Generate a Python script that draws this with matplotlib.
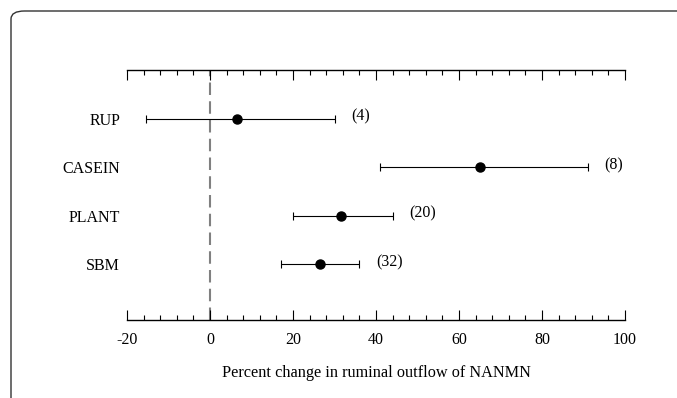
import matplotlib.pyplot as plt
from matplotlib.patches import FancyBboxPatch
from matplotlib.ticker import MultipleLocator

plt.rcParams['font.family'] = ['Liberation Serif', 'DejaVu Serif']
plt.rcParams['axes.unicode_minus'] = False  # hyphen for -20 like the original

groups = ['RUP', 'CASEIN', 'PLANT', 'SBM']
means = [6.5, 65.0, 31.5, 26.5]
lower = [-15.5, 41.0, 20.0, 17.0]
upper = [30.0, 91.0, 44.0, 36.0]
n_obs = ['(4)', '(8)', '(20)', '(32)']

fig = plt.figure(figsize=(6.77, 3.98), dpi=100)

# outer rounded frame (the picture is a crop of a boxed figure)
frame = FancyBboxPatch((11 / 677, -0.2), 1.2, 0.2 + (398 - 11) / 398,
                       boxstyle='round,pad=0,rounding_size=0.02',
                       transform=fig.transFigure, fill=False,
                       edgecolor='#333333', linewidth=1.0, clip_on=False)
fig.patches.append(frame)

ax = fig.add_axes([127 / 677, 1 - 320 / 398, (625 - 127) / 677, (320 - 70) / 398])

ypos = [4, 3, 2, 1]
err_lo = [m - l for m, l in zip(means, lower)]
err_hi = [u - m for m, u in zip(means, upper)]

ax.axvline(0, color='#808080', linestyle=(0, (6, 3)), linewidth=1.5, zorder=1)
ax.errorbar(means, ypos, xerr=[err_lo, err_hi], fmt='o', color='black',
            markersize=6.5, elinewidth=0.8, capsize=3, capthick=0.8, zorder=3)

for u, y, t in zip(upper, ypos, n_obs):
    ax.annotate(t, (u, y), xytext=(12, 1.5), textcoords='offset points',
                ha='left', va='center', fontsize=11.5)

ax.set_xlim(-20, 100)
ax.set_ylim(-0.15, 5.0)
ax.set_yticks(ypos)
ax.set_yticklabels(groups, fontsize=11.5)
ax.tick_params(axis='y', length=0, pad=5)

ax.xaxis.set_major_locator(MultipleLocator(20))
ax.xaxis.set_minor_locator(MultipleLocator(4))
ax.tick_params(axis='x', which='both', direction='in', top=True, bottom=True,
               labelsize=11.5, width=0.8, pad=9)
ax.tick_params(axis='x', which='major', length=7)
ax.tick_params(axis='x', which='minor', length=3.5)

for s in ['left', 'right']:
    ax.spines[s].set_visible(False)
for s in ['top', 'bottom']:
    ax.spines[s].set_linewidth(1.0)

ax.set_xlabel('Percent change in ruminal outflow of NANMN', fontsize=11.7, labelpad=12)

fig.savefig('out.png', dpi=100)
